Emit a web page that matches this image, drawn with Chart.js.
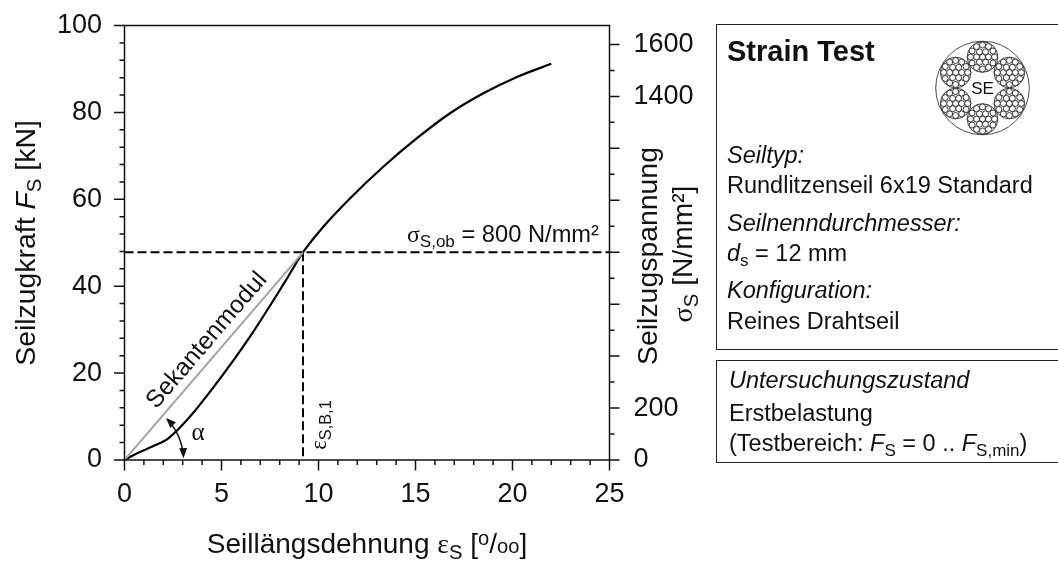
<!DOCTYPE html>
<html>
<head>
<meta charset="utf-8">
<script src="https://cdn.jsdelivr.net/npm/chart.js@4"></script>
<style>
html, body { margin: 0; padding: 0; background: #fff; }
#wrap { position: relative; width: 1058px; height: 561px; overflow: hidden; font-family: "Liberation Sans", Arial, sans-serif; color: #111; }
canvas { position: absolute; left: 0; top: 0; }
.box { position: absolute; left: 716px; width: 360px; border: 1.5px solid #222; box-sizing: border-box; }
.ln { position: absolute; left: 727px; font-size: 23.5px; line-height: 24px; white-space: nowrap; }
.ln sub { font-size: 17px; line-height: 0; vertical-align: -5px; }
#rope { position: absolute; left: 930px; top: 36px; }
</style>
</head>
<body>
<div id="wrap">
<canvas id="strainChart" width="1058" height="561"></canvas>
<div class="box" style="top:24px;height:326px"></div>
<div class="box" style="top:360px;height:103px"></div>
<div class="ln" style="top:36px;font-size:29px;line-height:30px;font-weight:bold">Strain Test</div>
<div class="ln" style="top:143px"><i>Seiltyp:</i></div>
<div class="ln" style="top:173px">Rundlitzenseil 6x19 Standard</div>
<div class="ln" style="top:210.5px"><i>Seilnenndurchmesser:</i></div>
<div class="ln" style="top:241px"><i>d</i><sub>s</sub> = 12 mm</div>
<div class="ln" style="top:278px"><i>Konfiguration:</i></div>
<div class="ln" style="top:309px">Reines Drahtseil</div>
<div class="ln" style="top:368px;left:729px"><i>Untersuchungszustand</i></div>
<div class="ln" style="top:401px;left:729px">Erstbelastung</div>
<div class="ln" style="top:431px;left:729px">(Testbereich: <i>F</i><sub>S</sub> = 0 .. <i>F</i><sub>S,min</sub>)</div>
<svg id="rope" width="106" height="104" xmlns="http://www.w3.org/2000/svg"></svg>
</div>
<script>
// curve
var strain = [0, 0.63, 1.49, 2.26, 3.3, 5.0, 6.47, 8.27, 9.2, 10.25, 11.62, 13.34, 15.06, 16.78, 18.5, 20.2, 22.0];
var force = [0, 1.5, 3.2, 5.0, 9.6, 19.2, 28.4, 41.0, 47.8, 53.7, 60.2, 67.5, 74.0, 79.8, 84.4, 88.1, 91.2];
var secantX = [0, 9.2];
var secantY = [0, 47.8];
var upperLimitX = [0, 25];
var upperLimitY = [47.8, 47.8];
var breakX = [9.2, 9.2];
var breakY = [47.8, 0];
var xTickLabels = [0, 5, 10, 15, 20, 25];
var yTickLabels = [0, 20, 40, 60, 80, 100];
var stressTickLabels = [0, 200, 1400, 1600];

function pts(xs, ys) {
    return xs.map(function (v, i) { return { x: v, y: ys[i] }; });
}

var serif = '"Liberation Serif", serif';

// text with italic / sub / sup parts, written along one line
function richText(ctx, runs, x, y, size, angle) {
    function font(r) {
        var s = r.sub ? size * 0.72 : r.sup ? size * 0.72 : size * (r.scale || 1);
        return (r.i ? 'italic ' : '') + s + 'px ' + (r.serif ? serif : '"Liberation Sans"');
    }
    ctx.save();
    ctx.translate(x, y);
    ctx.rotate((angle || 0) * Math.PI / 180);
    ctx.textAlign = 'left';
    ctx.textBaseline = 'alphabetic';
    ctx.fillStyle = '#111';
    var total = 0;
    runs.forEach(function (r) { ctx.font = font(r); total += ctx.measureText(r.t).width; });
    var pos = -total / 2;
    runs.forEach(function (r) {
        ctx.font = font(r);
        ctx.fillText(r.t, pos, r.sub ? size * 0.2 : r.sup ? -size * 0.3 : 0);
        pos += ctx.measureText(r.t).width;
    });
    ctx.restore();
}

var frameAndNotes = {
    id: 'frameAndNotes',
    afterDraw: function (chart) {
        var ctx = chart.ctx, a = chart.chartArea;
        var sx = chart.scales.x, sy = chart.scales.y, s2 = chart.scales.y2;
        ctx.save();
        ctx.strokeStyle = '#111';
        ctx.lineWidth = 1.5;
        ctx.strokeRect(a.left, a.top, a.right - a.left, a.bottom - a.top);
        ctx.beginPath();
        sx.ticks.forEach(function (t) {
            var p = sx.getPixelForValue(t.value);
            ctx.moveTo(p, a.bottom);
            ctx.lineTo(p, a.bottom + (t.value % 5 === 0 ? 10.5 : 5));
        });
        sy.ticks.forEach(function (t) {
            var p = sy.getPixelForValue(t.value);
            ctx.moveTo(a.left, p);
            ctx.lineTo(a.left - (t.value % 20 === 0 ? 10.5 : 5), p);
        });
        s2.ticks.forEach(function (t) {
            var p = s2.getPixelForValue(t.value);
            ctx.moveTo(a.right, p);
            ctx.lineTo(a.right + (t.value % 200 === 0 ? 10 : 5), p);
        });
        ctx.stroke();

        // angle arc around the origin
        var ox = sx.getPixelForValue(0), oy = sy.getPixelForValue(0);
        var r = 59, a0 = -0.03, a1 = -0.79;
        ctx.beginPath();
        ctx.arc(ox, oy, r, a1 + 0.1, a0 - 0.1);
        ctx.stroke();
        ctx.fillStyle = '#111';
        [[a0, 1], [a1, -1]].forEach(function (e) {
            var tx = ox + r * Math.cos(e[0]), ty = oy + r * Math.sin(e[0]);
            var d = e[0] + e[1] * Math.PI / 2;
            var bx = tx - 10 * Math.cos(d), by = ty - 10 * Math.sin(d);
            ctx.beginPath();
            ctx.moveTo(tx, ty);
            ctx.lineTo(bx - 4 * Math.sin(d), by + 4 * Math.cos(d));
            ctx.lineTo(bx + 4 * Math.sin(d), by - 4 * Math.cos(d));
            ctx.closePath();
            ctx.fill();
        });
        ctx.restore();

        richText(ctx, [{ t: 'Seilzugkraft ' }, { t: 'F', i: true }, { t: 'S', sub: true }, { t: ' [kN]' }], 35, 243, 28.4, -90);
        richText(ctx, [{ t: 'Seillängsdehnung ' }, { t: 'ε', serif: true }, { t: 'S', sub: true }, { t: ' [' }, { t: 'o', sup: true }, { t: '/' }, { t: 'oo', scale: 0.72 }, { t: ']' }], 367, 553, 28, 0);
        richText(ctx, [{ t: 'Seilzugspannung' }], 657, 256, 28.4, -90);
        richText(ctx, [{ t: 'σ', serif: true }, { t: 'S', sub: true }, { t: ' [N/mm²]' }], 692, 254, 28.2, -90);
        richText(ctx, [{ t: 'σ', serif: true }, { t: 'S,ob', sub: true }, { t: ' = 800 N/mm²' }], 503, 242, 23.7, 0);
        richText(ctx, [{ t: 'Sekantenmodul' }], 212, 345, 24.6, -49.3);
        richText(ctx, [{ t: 'ε', serif: true }, { t: 'S,B,1', sub: true }], 326, 425, 22.7, -90);
        richText(ctx, [{ t: 'α', serif: true }], 198, 440, 25, 0);
    }
};

var ctxMain = document.getElementById('strainChart').getContext('2d');
var strainChart = new Chart(ctxMain, {
    type: 'scatter',
    data: {
        datasets: [{
            label: 'Secant',
            data: pts(secantX, secantY),
            showLine: true,
            borderColor: '#a3a3a3',
            borderWidth: 2,
            pointRadius: 0
        }, {
            label: 'Upper stress',
            data: pts(upperLimitX, upperLimitY),
            showLine: true,
            borderColor: '#000',
            borderWidth: 2,
            borderDash: [9, 4],
            pointRadius: 0
        }, {
            label: 'Strain at break',
            data: pts(breakX, breakY),
            showLine: true,
            borderColor: '#000',
            borderWidth: 2,
            borderDash: [9, 4],
            pointRadius: 0
        }, {
            label: 'Seilzugkraft',
            data: pts(strain, force),
            showLine: true,
            borderColor: '#000',
            borderWidth: 2.2,
            cubicInterpolationMode: 'monotone',
            pointRadius: 0
        }]
    },
    plugins: [frameAndNotes],
    options: {
        responsive: false,
        animation: false,
        layout: { autoPadding: false, padding: { top: 25.5 } },
        plugins: { legend: { display: false }, tooltip: { enabled: false } },
        scales: {
            x: {
                type: 'linear',
                min: 0,
                max: 25,
                afterFit: function (s) { s.height = 101; s.paddingLeft = 0; s.paddingRight = 0; },
                grid: { display: false },
                border: { display: false },
                ticks: {
                    stepSize: 1,
                    autoSkip: false,
                    maxRotation: 0,
                    padding: 10,
                    color: '#111',
                    font: { family: '"Liberation Sans"', size: 27 },
                    callback: function (v) { return xTickLabels.indexOf(v) >= 0 ? String(v) : ''; }
                }
            },
            y: {
                type: 'linear',
                min: 0,
                max: 100,
                afterFit: function (s) { s.width = 124.5; s.paddingTop = 0; s.paddingBottom = 0; },
                grid: { display: false },
                border: { display: false },
                ticks: {
                    stepSize: 4,
                    autoSkip: false,
                    padding: 14.5,
                    color: '#111',
                    font: { family: '"Liberation Sans"', size: 27 },
                    callback: function (v) { return yTickLabels.indexOf(v) >= 0 ? String(v) : ''; }
                }
            },
            y2: {
                type: 'linear',
                position: 'right',
                min: 0,
                max: 1673,
                afterFit: function (s) { s.width = 448.5; s.paddingTop = 0; s.paddingBottom = 0; },
                grid: { display: false },
                border: { display: false },
                ticks: {
                    stepSize: 100,
                    includeBounds: false,
                    autoSkip: false,
                    padding: 16,
                    color: '#111',
                    font: { family: '"Liberation Sans"', size: 27 },
                    callback: function (v) { return stressTickLabels.indexOf(v) >= 0 ? String(v) : ''; }
                }
            }
        }
    }
});

// rope cross section icon
var svg = document.getElementById('rope');
var NS = 'http://www.w3.org/2000/svg';
function ring(cx, cy, r, sw) {
    var c = document.createElementNS(NS, 'circle');
    c.setAttribute('cx', cx);
    c.setAttribute('cy', cy);
    c.setAttribute('r', r);
    c.setAttribute('fill', '#fff');
    c.setAttribute('stroke', '#222');
    c.setAttribute('stroke-width', sw);
    svg.appendChild(c);
}
var cx0 = 52.5, cy0 = 52;
ring(cx0, cy0, 46.8, 0.8);
for (var k = 0; k < 6; k++) {
    var ang = (90 + k * 60) * Math.PI / 180;
    var scx = cx0 + 31 * Math.cos(ang), scy = cy0 + 31 * Math.sin(ang);
    ring(scx, scy, 15.3, 0.9);
    ring(scx, scy, 3, 0.9);
    for (var j = 0; j < 6; j++) {
        ring(scx + 6 * Math.cos(j * Math.PI / 3), scy + 6 * Math.sin(j * Math.PI / 3), 3, 0.9);
    }
    for (var m = 0; m < 12; m++) {
        ring(scx + 12 * Math.cos(m * Math.PI / 6), scy + 12 * Math.sin(m * Math.PI / 6), 3, 0.9);
    }
}
var se = document.createElementNS(NS, 'text');
se.setAttribute('x', cx0);
se.setAttribute('y', cy0 + 6);
se.setAttribute('text-anchor', 'middle');
se.setAttribute('font-size', '17');
se.setAttribute('font-family', 'Liberation Sans');
se.setAttribute('fill', '#111');
se.textContent = 'SE';
svg.appendChild(se);
</script>
</body>
</html>
